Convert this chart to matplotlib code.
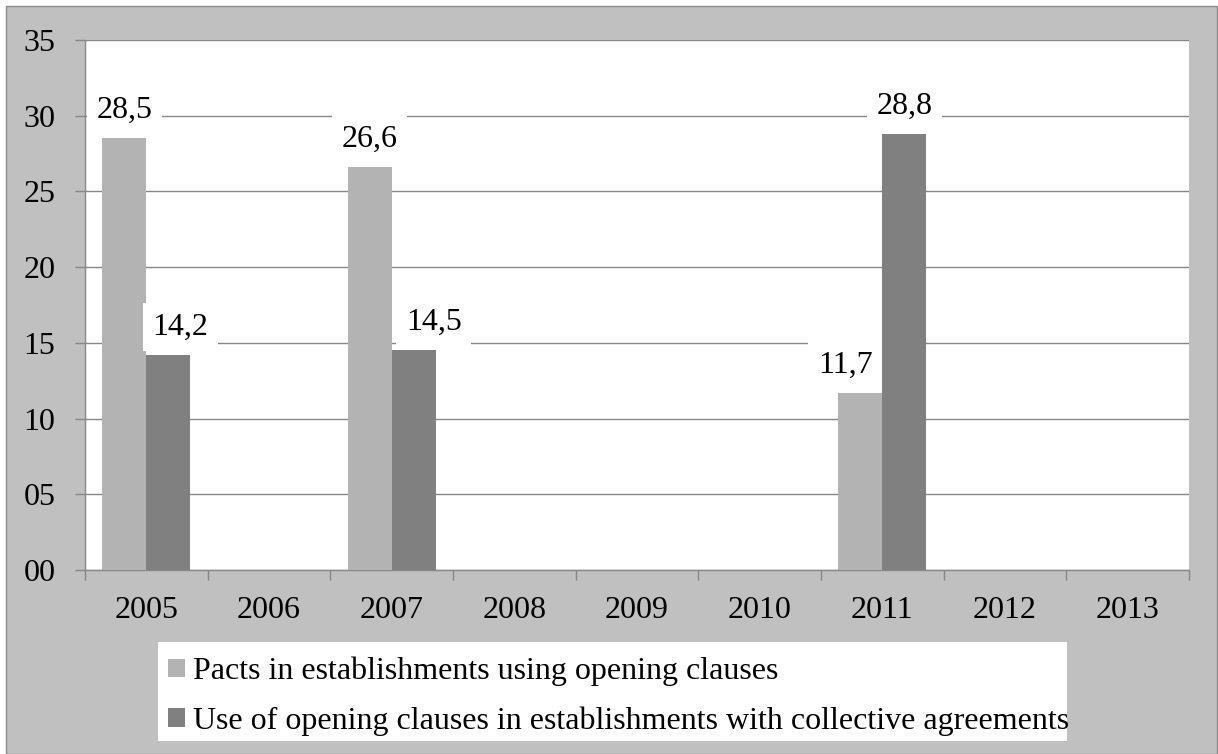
import numpy as np
import matplotlib
matplotlib.use("Agg")
from matplotlib import pyplot as plt
from matplotlib.patches import Rectangle

plt.rcParams['font.family'] = ['Liberation Serif', 'DejaVu Serif']

years = ["2005", "2006", "2007", "2008", "2009", "2010", "2011", "2012", "2013"]
pacts = [28.5, np.nan, 26.6, np.nan, np.nan, np.nan, 11.7, np.nan, np.nan]
use_clauses = [14.2, np.nan, 14.5, np.nan, np.nan, np.nan, 28.8, np.nan, np.nan]
series_names = ["Pacts in establishments using opening clauses",
                "Use of opening clauses in establishments with collective agreements"]

# label nudges in pixels (Excel pushes some labels sideways)
nudge_pacts = [0, 0, 0, 0, 0, 0, -15, 0, 0]
nudge_use = [12, 0, 20, 0, 0, 0, 0, 0, 0]

light = "#b3b3b3"
dark = "#808080"
grid_c = "#878787"
bg = "#c0c0c0"
fs = 23

fig = plt.figure(figsize=(12.18, 7.54), dpi=100)
fig.patch.set_facecolor("white")
frame = Rectangle((6 / 1218, 0), 1 - 7 / 1218, 1 - 6 / 754, transform=fig.transFigure,
                  facecolor=bg, edgecolor="#8c8c8c", linewidth=1.0, zorder=-10)
fig.add_artist(frame)
# white legend panel
fig.add_artist(Rectangle((158 / 1218, 1 - 741 / 754), (1067 - 158) / 1218, (741 - 642) / 754,
                         transform=fig.transFigure, facecolor="white", edgecolor="none", zorder=-5))

ax = fig.add_axes([85 / 1218, 1 - 570 / 754, (1189 - 85) / 1218, (570 - 40) / 754])
ax.set_facecolor("white")

x = np.arange(len(years))
w = 0.36
b1 = ax.bar(x - w / 2, pacts, w, color=light, label=series_names[0], zorder=3)
b2 = ax.bar(x + w / 2, use_clauses, w, color=dark, label=series_names[1], zorder=3)

def put_labels(xs, vals, nudges):
    for xi, v, n in zip(xs, vals, nudges):
        if np.isnan(v):
            continue
        ax.annotate(f"{v:.1f}".replace(".", ","), (xi, v), xytext=(n, 28),
                    textcoords="offset pixels", ha="center", va="center", fontsize=fs,
                    bbox=dict(boxstyle="square,pad=0.3", fc="white", ec="none"), zorder=4)

put_labels(x - w / 2, pacts, nudge_pacts)
put_labels(x + w / 2, use_clauses, nudge_use)

ax.set_xlim(-0.5, len(years) - 0.5)
ax.set_ylim(0, 35)
ax.set_yticks(range(0, 36, 5))
ax.set_yticklabels([f"{v:02d}" for v in range(0, 36, 5)])
ax.set_xticks(x)
ax.set_xticklabels(years)
ax.set_xticks(np.arange(-0.5, len(years), 1), minor=True)

ax.yaxis.grid(True, color=grid_c, linewidth=1.0, zorder=0)
ax.set_axisbelow(True)
for s in ["top", "right"]:
    ax.spines[s].set_visible(False)
for s in ["left", "bottom"]:
    ax.spines[s].set_color(grid_c)
    ax.spines[s].set_linewidth(1.0)

ax.tick_params(axis="y", length=7.2, width=1.0, color=grid_c, labelsize=fs, pad=14)
ax.tick_params(axis="x", which="major", length=0, labelsize=fs, pad=19)
ax.tick_params(axis="x", which="minor", length=7.2, width=1.0, color=grid_c)

leg = fig.legend(handles=[b1, b2], loc="upper left", bbox_to_anchor=(168 / 1218, 1 - 657 / 754),
                 fontsize=fs, frameon=False, borderpad=0, handlelength=0.52, handleheight=0.5,
                 handletextpad=0.25, labelspacing=0.62, borderaxespad=0)

fig.savefig("out.png", dpi=100, facecolor=fig.get_facecolor())
